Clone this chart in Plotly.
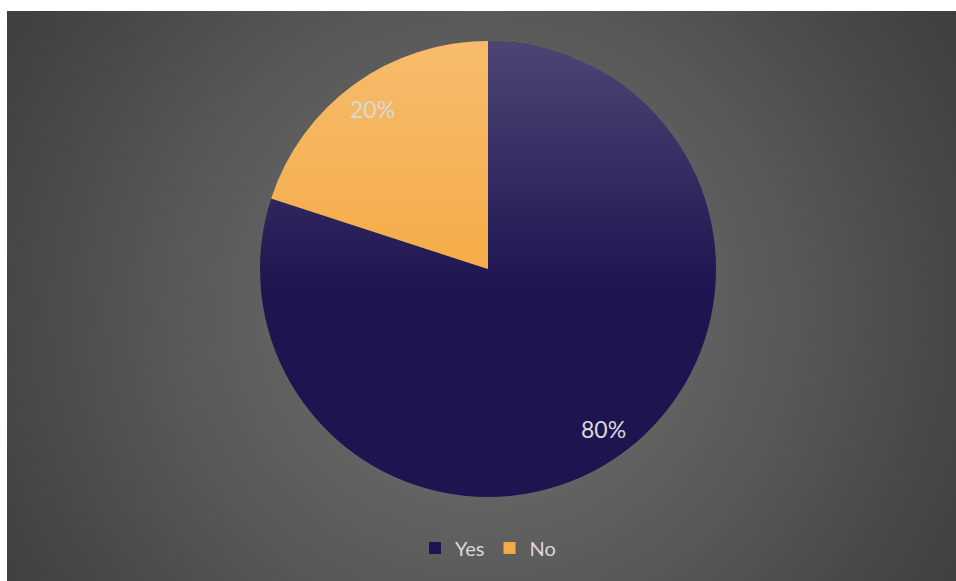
import base64
import math
import plotly.graph_objects as go

# Survey answers
categories = ["Yes", "No"]
shares = [80, 20]
slice_colors = ["#1e1450", "#f5aa45"]

W, H = 956, 581
# chart area (pixels) inside the white page margin
AX0, AY0, AX1, AY1 = 7, 11, 956, 581
# pie centre and radius in pixels
PCX, PCY, PR = 488, 269, 228


def svg_uri(svg):
    return "data:image/svg+xml;base64," + base64.b64encode(svg.encode()).decode()


# radial grey backdrop of the chart area
aw, ah = AX1 - AX0, AY1 - AY0
bg_svg = f"""<svg xmlns='http://www.w3.org/2000/svg' width='{aw}' height='{ah}' viewBox='0 0 {aw} {ah}' preserveAspectRatio='none'>
<defs><radialGradient id='g' gradientUnits='userSpaceOnUse' cx='474' cy='300' r='560'>
<stop offset='0' stop-color='#6e6e6e'/>
<stop offset='0.33' stop-color='#636363'/>
<stop offset='0.57' stop-color='#575757'/>
<stop offset='0.82' stop-color='#484848'/>
<stop offset='1' stop-color='#3f3f3f'/>
</radialGradient></defs>
<rect x='0' y='0' width='{aw}' height='{ah}' fill='url(#g)'/></svg>"""

# soft top-down sheen over the pie
d = 2 * PR
sheen_svg = f"""<svg xmlns='http://www.w3.org/2000/svg' width='{d}' height='{d}' viewBox='0 0 {d} {d}'>
<defs><linearGradient id='s' x1='0' y1='0' x2='0' y2='1'>
<stop offset='0' stop-color='#ffffff' stop-opacity='0.21'/>
<stop offset='0.55' stop-color='#ffffff' stop-opacity='0'/>
</linearGradient></defs>
<circle cx='{PR}' cy='{PR}' r='{PR}' fill='url(#s)'/></svg>"""

fig = go.Figure(
    go.Pie(
        labels=categories,
        values=shares,
        sort=False,
        direction="clockwise",
        rotation=0,
        marker=dict(colors=slice_colors, line=dict(width=0)),
        textinfo="none",
        hoverinfo="label+percent",
        domain=dict(
            x=[(PCX - PR) / W, (PCX + PR) / W],
            y=[1 - (PCY + PR) / H, 1 - (PCY - PR) / H],
        ),
    )
)

# percentage labels placed along each slice's bisector
annotations = []
total = sum(shares)
cum = 0
for v in shares:
    mid = (cum + v / 2) / total * 2 * math.pi
    cum += v
    rr = 0.865 * PR
    px = PCX + rr * math.sin(mid)
    py = PCY - rr * math.cos(mid)
    annotations.append(
        dict(
            x=px / W, y=1 - py / H, xref="paper", yref="paper",
            text=f"{round(v / total * 100)}%", showarrow=False,
            font=dict(family="Lato, Carlito, sans-serif", size=23, color="#d9d9d9"),
            xanchor="center", yanchor="middle",
        )
    )

fig.update_layout(
    width=W, height=H,
    margin=dict(l=0, r=0, t=0, b=0),
    paper_bgcolor="white",
    plot_bgcolor="rgba(0,0,0,0)",
    showlegend=True,
    legend=dict(
        orientation="h", x=488 / W, xanchor="center", y=1 - 548 / H, yanchor="middle",
        font=dict(family="Lato, Carlito, sans-serif", size=20, color="#d9d9d9"),
        bgcolor="rgba(0,0,0,0)", itemclick=False, itemdoubleclick=False,
    ),
    images=[
        dict(
            source=svg_uri(bg_svg), xref="paper", yref="paper",
            x=AX0 / W, y=1 - AY0 / H, sizex=aw / W, sizey=ah / H,
            xanchor="left", yanchor="top", sizing="stretch", layer="below",
        ),
        dict(
            source=svg_uri(sheen_svg), xref="paper", yref="paper",
            x=(PCX - PR) / W, y=1 - (PCY - PR) / H, sizex=d / W, sizey=d / H,
            xanchor="left", yanchor="top", sizing="stretch", layer="above",
        ),
    ],
    annotations=annotations,
)

fig.write_html("out.html")
